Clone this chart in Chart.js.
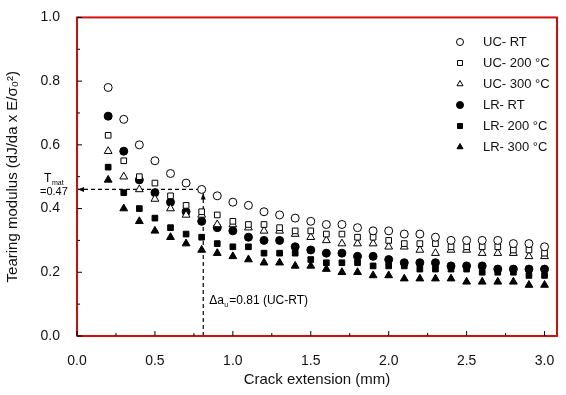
<!DOCTYPE html>
<html>
<head>
<meta charset="utf-8">
<script src="https://cdn.jsdelivr.net/npm/chart.js@4/dist/chart.umd.min.js"></script>
<style>
  html, body { margin: 0; padding: 0; background: #fff; }
  #wrap { width: 566px; height: 395px; }
</style>
</head>
<body>
<div id="wrap"><canvas id="tearChart" width="566" height="395"></canvas></div>
<script>
// crack extension (mm)
const crackExt = [0.2, 0.3, 0.4, 0.5, 0.6, 0.7, 0.8, 0.9, 1.0, 1.1, 1.2, 1.3, 1.4, 1.5, 1.6,
                  1.7, 1.8, 1.9, 2.0, 2.1, 2.2, 2.3, 2.4, 2.5, 2.6, 2.7, 2.8, 2.9, 3.0];

// tearing modulus per condition
const ucRT  = [0.78, 0.68, 0.60, 0.55, 0.51, 0.48, 0.46, 0.44, 0.42, 0.41, 0.39, 0.38, 0.37, 0.36, 0.35,
               0.35, 0.34, 0.33, 0.33, 0.32, 0.32, 0.31, 0.30, 0.30, 0.30, 0.30, 0.29, 0.29, 0.28];
const uc200 = [0.63, 0.55, 0.50, 0.48, 0.44, 0.41, 0.39, 0.38, 0.36, 0.35, 0.35, 0.34, 0.33, 0.33, 0.32,
               0.32, 0.31, 0.31, 0.30, 0.29, 0.29, 0.29, 0.28, 0.28, 0.28, 0.28, 0.27, 0.27, 0.26];
const uc300 = [0.58, 0.50, 0.46, 0.43, 0.40, 0.38, 0.38, 0.35, 0.35, 0.34, 0.33, 0.33, 0.32, 0.31, 0.30,
               0.29, 0.29, 0.29, 0.28, 0.28, 0.27, 0.26, 0.27, 0.27, 0.26, 0.26, 0.26, 0.25, 0.25];
const lrRT  = [0.69, 0.58, 0.49, 0.45, 0.42, 0.39, 0.36, 0.34, 0.33, 0.31, 0.30, 0.30, 0.28, 0.27, 0.26,
               0.26, 0.25, 0.25, 0.24, 0.23, 0.23, 0.23, 0.22, 0.22, 0.22, 0.21, 0.21, 0.21, 0.21];
const lr200 = [0.53, 0.45, 0.40, 0.37, 0.34, 0.32, 0.31, 0.29, 0.28, 0.28, 0.26, 0.26, 0.26, 0.24, 0.23,
               0.23, 0.23, 0.22, 0.22, 0.22, 0.21, 0.21, 0.21, 0.21, 0.20, 0.20, 0.20, 0.19, 0.19];
const lr300 = [0.49, 0.40, 0.36, 0.33, 0.31, 0.29, 0.27, 0.26, 0.25, 0.24, 0.23, 0.23, 0.22, 0.22, 0.21,
               0.20, 0.20, 0.19, 0.19, 0.18, 0.18, 0.18, 0.18, 0.17, 0.17, 0.17, 0.17, 0.16, 0.16];

const seriesLabels = ['UC- RT', 'UC- 200 °C', 'UC- 300 °C', 'LR- RT', 'LR- 200 °C', 'LR- 300 °C'];
const xTicks = [0.0, 0.5, 1.0, 1.5, 2.0, 2.5, 3.0];
const yTicks = [0.0, 0.2, 0.4, 0.6, 0.8, 1.0];

// T_mat and delta a markers
const tmatLevel = 0.46;
const daValue = 0.81;

const FONT = '"Liberation Sans", Arial, sans-serif';
const toPoints = ys => ys.map((y, i) => ({ x: crackExt[i], y: y }));

function series(label, ys, style, filled) {
  return {
    label: label,
    data: toPoints(ys),
    pointStyle: style,
    pointRadius: style === 'triangle' ? 4.5 : 4,
    borderWidth: 1,
    borderColor: '#000',
    backgroundColor: filled ? '#000' : '#fff',
    showLine: false
  };
}

function guide(pts) {
  return {
    label: '',
    data: pts,
    showLine: true,
    pointRadius: 0,
    borderColor: '#000',
    borderWidth: 1.2,
    borderDash: [4, 3],
    fill: false
  };
}

// plot frame as a solid dataset outline, drawn through the scales
function frameLine(pts) {
  return {
    label: '',
    data: pts,
    showLine: true,
    pointRadius: 0,
    borderColor: '#000',
    borderWidth: 1.5,
    fill: false,
    clip: false
  };
}

// inward ticks, legend and notes
const decor = {
  id: 'decor',
  afterDraw(chart) {
    const ctx = chart.ctx;
    const a = chart.chartArea;
    const xs = chart.scales.x, ys = chart.scales.y;
    ctx.save();
    ctx.setLineDash([]);
    ctx.strokeStyle = 'red';
    ctx.lineWidth = 1.5;
    ctx.strokeRect(a.left, a.top, a.right - a.left, a.bottom - a.top);

    ctx.strokeStyle = '#000';
    ctx.lineWidth = 1;
    for (let i = 0; i <= 12; i++) {
      const px = xs.getPixelForValue(i * 0.25);
      const len = i % 2 === 0 ? 5 : 3;
      ctx.beginPath();
      ctx.moveTo(px, a.bottom);
      ctx.lineTo(px, a.bottom - len);
      ctx.stroke();
    }
    for (let i = 0; i <= 10; i++) {
      const py = ys.getPixelForValue(i * 0.1);
      const len = i % 2 === 0 ? 5 : 3;
      ctx.beginPath();
      ctx.moveTo(a.left, py);
      ctx.lineTo(a.left + len, py);
      ctx.stroke();
    }

    // arrow heads on guides
    const hy = ys.getPixelForValue(tmatLevel);
    const vx = xs.getPixelForValue(daValue);
    ctx.fillStyle = '#000';
    ctx.beginPath();
    ctx.moveTo(a.left + 1, hy); ctx.lineTo(a.left + 7, hy - 2.5); ctx.lineTo(a.left + 7, hy + 2.5);
    ctx.closePath(); ctx.fill();
    ctx.beginPath();
    ctx.moveTo(vx, hy + 4); ctx.lineTo(vx - 2.5, hy + 10); ctx.lineTo(vx + 2.5, hy + 10);
    ctx.closePath(); ctx.fill();

    // T_mat label
    ctx.textBaseline = 'alphabetic';
    ctx.textAlign = 'left';
    ctx.font = '12px ' + FONT;
    ctx.fillText('T', 44, hy - 7);
    ctx.font = '7px ' + FONT;
    ctx.fillText('mat', 52, hy - 4);
    ctx.font = '11px ' + FONT;
    ctx.fillText('=0.47', 40, hy + 6);

    // delta a label
    const ty = ys.getPixelForValue(0.1);
    ctx.font = '12px ' + FONT;
    ctx.fillText('Δa', vx + 6, ty);
    ctx.font = '7px ' + FONT;
    ctx.fillText('u', vx + 21, ty + 3);
    ctx.font = '12px ' + FONT;
    ctx.fillText('=0.81 (UC-RT)', vx + 26, ty);

    // legend
    const lx = 460, ly0 = 42, dy = 21;
    chart.data.datasets.slice(0, seriesLabels.length).forEach((ds, i) => {
      const y = ly0 + i * dy;
      ctx.fillStyle = ds.backgroundColor;
      ctx.strokeStyle = ds.borderColor;
      ctx.lineWidth = 1;
      Chart.helpers.drawPoint(ctx, { pointStyle: ds.pointStyle, radius: 3.5, rotation: 0, borderWidth: 1 }, lx, y);
      ctx.fillStyle = '#111';
      ctx.font = '13px ' + FONT;
      ctx.textBaseline = 'middle';
      ctx.fillText(ds.label, lx + 23, y);
    });
    ctx.restore();
  }
};

const ctx = document.getElementById('tearChart').getContext('2d');
const tearChart = new Chart(ctx, {
  type: 'scatter',
  data: {
    datasets: [
      series(seriesLabels[0], ucRT, 'circle', false),
      series(seriesLabels[1], uc200, 'rect', false),
      series(seriesLabels[2], uc300, 'triangle', false),
      series(seriesLabels[3], lrRT, 'circle', true),
      series(seriesLabels[4], lr200, 'rect', true),
      series(seriesLabels[5], lr300, 'triangle', true),
      guide([{ x: 0, y: tmatLevel }, { x: 0.8, y: tmatLevel }]),
      guide([{ x: daValue, y: 0 }, { x: daValue, y: tmatLevel }]),
      frameLine([{ x: 0, y: 0 }, { x: 3.08, y: 0 }, { x: 3.08, y: 1 }, { x: 0, y: 1 }, { x: 0, y: 0 }])
    ]
  },
  options: {
    responsive: false,
    animation: false,
    layout: { padding: { top: 14, right: 9, left: 0, bottom: 0 } },
    plugins: {
      legend: { display: false },
      tooltip: { enabled: false }
    },
    scales: {
      x: {
        type: 'linear',
        min: 0,
        max: 3.08,
        afterBuildTicks: s => { s.ticks = xTicks.map(v => ({ value: v })); },
        afterFit: s => { s.height = 59; },
        grid: { display: false },
        border: { display: false },
        ticks: {
          color: '#111',
          padding: 9,
          maxRotation: 0,
          font: { family: FONT, size: 14 },
          callback: v => v.toFixed(1)
        },
        title: {
          display: true,
          text: 'Crack extension (mm)',
          color: '#111',
          padding: { top: 0, bottom: 6 },
          font: { family: FONT, size: 15 }
        }
      },
      y: {
        min: 0,
        max: 1.0,
        afterBuildTicks: s => { s.ticks = yTicks.map(v => ({ value: v })); },
        afterFit: s => { s.width = 77; },
        grid: { display: false },
        border: { display: false },
        ticks: {
          color: '#111',
          padding: 9,
          font: { family: FONT, size: 14 },
          callback: v => v.toFixed(1)
        },
        title: {
          display: true,
          text: 'Tearing modulus (dJ/da x E/σ₀²)',
          color: '#111',
          padding: { top: 4, bottom: 0 },
          font: { family: FONT, size: 15 }
        }
      }
    }
  },
  plugins: [decor]
});
</script>
</body>
</html>
